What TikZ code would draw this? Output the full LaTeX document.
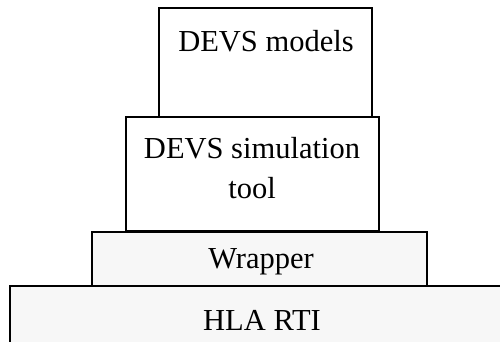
\documentclass[tikz,border=0pt]{standalone}
\usepackage{fontspec}
\setmainfont{Liberation Serif}
\begin{document}
\begin{tikzpicture}[x=1pt,y=-1pt,
  layer/.style={draw=black, line width=1.8pt, anchor=north west, inner sep=0pt, outer sep=0pt},
  grainy/.style={fill=black!3},
  lbl/.style={font=\fontsize{30.5}{40}\selectfont, inner sep=0pt, align=center}]
  \useasboundingbox (0,0) rectangle (500,341);
  \begin{scope}
    \clip (0,0) rectangle (500,341);
    % stacked layers, bottom to top
    \node[layer, grainy, minimum width=500pt, minimum height=70pt] (rti) at (10,286) {};
    \node[layer, grainy, minimum width=335pt, minimum height=54pt] (wrap) at (92,232) {};
    \node[layer, fill=white, minimum width=253pt, minimum height=114pt] (sim) at (126,117) {};
    \node[layer, fill=white, minimum width=213pt, minimum height=109pt] (models) at (159,8) {};
  \end{scope}
  % layer captions
  \node[lbl] (tmodels) at (266,41) {DEVS models};
  \node[lbl] (tsim) at (252,168) {DEVS simulation\\tool};
  \node[lbl] (twrap) at (261,262) {Wrapper};
  \node[lbl] (trti) at (262,320) {HLA RTI};
\end{tikzpicture}
\end{document}
